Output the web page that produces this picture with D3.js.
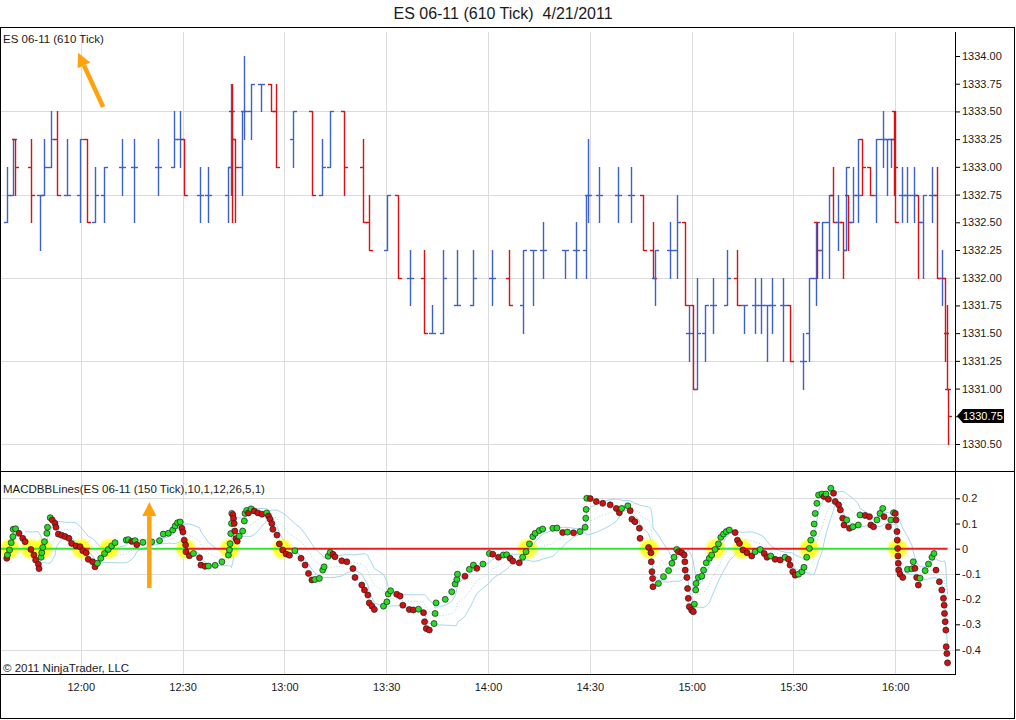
<!DOCTYPE html>
<meta charset="utf-8">
<script src="https://d3js.org/d3.v7.min.js"></script>
<style>
  body { margin: 0; background: #fff; }
  text { font-family: "Liberation Sans", Arial, sans-serif; fill: #1a1a1a; }
</style>
<div id="chart"></div>
<script>

// ES 06-11, 610 tick bars. time = minutes after midnight
const barMinute = [698.4,700.0,700.7,705.3,708.0,709.3,711.2,712.9,715.9,719.8,
  721.9,724.2,726.7,732.1,735.8,742.9,747.5,749.3,750.5,755.0,
  757.6,763.5,764.2,764.5,765.5,767.6,768.2,770.1,773.0,776.0,
  777.6,782.6,788.1,791.0,793.5,797.5,803.1,804.8,810.2,813.6,
  817.1,821.0,823.6,826.7,830.8,835.7,841.1,846.2,850.2,853.2,
  856.1,862.7,865.9,868.8,869.6,872.8,878.4,882.1,885.6,888.6,
  889.3,893.5,895.6,897.9,899.3,900.5,901.5,903.8,906.4,910.5,
  913.3,915.3,918.8,920.5,922.2,923.6,926.9,929.0,932.9,934.7,
  936.6,936.9,938.5,940.6,941.6,943.0,944.7,945.4,946.2,947.4,
  949.1,950.1,952.6,954.4,956.3,957.5,958.7,959.5,960.0,962.0,
  963.6,965.4,966.7,968.1,970.8,972.3,973.7,974.7,975.2,975.4];
const barOpen = [1332.50,1332.75,1333.25,1333.00,1332.75,1332.75,1333.00,1333.25,1332.75,1332.75,
  1333.25,1332.50,1332.75,1333.00,1333.00,1333.00,1333.00,1333.25,1333.25,1332.75,
  1332.75,1332.75,1333.00,1333.50,1333.25,1333.00,1333.50,1333.50,1333.75,1333.75,
  1333.50,1333.25,1333.50,1332.75,1333.00,1333.50,1333.00,1332.50,1332.25,1332.75,
  1332.00,1332.00,1331.50,1331.50,1331.75,1331.75,1332.00,1332.00,1331.75,1332.25,
  1332.25,1332.25,1332.25,1332.25,1332.75,1332.75,1332.75,1332.75,1332.75,1332.25,
  1332.00,1332.25,1332.25,1332.50,1331.50,1331.75,1331.00,1331.50,1331.75,1331.75,
  1332.00,1331.75,1331.75,1331.75,1331.75,1331.75,1331.75,1331.75,1331.25,1331.50,
  1332.00,1332.50,1332.25,1332.50,1332.75,1332.50,1332.50,1332.25,1332.75,1332.50,
  1332.75,1333.25,1333.00,1332.75,1333.25,1333.25,1333.25,1333.25,1333.50,1332.75,
  1332.75,1332.75,1332.75,1332.50,1332.75,1332.75,1332.00,1332.00,1331.50,1331.00];
const barHigh = [1333.00,1333.25,1333.25,1333.25,1332.75,1333.25,1333.50,1333.50,1333.25,1333.25,
  1333.25,1333.00,1333.00,1333.25,1333.25,1333.25,1333.50,1333.50,1333.25,1333.00,
  1333.00,1333.00,1333.75,1333.75,1333.25,1333.50,1334.00,1333.75,1333.75,1333.75,
  1333.75,1333.50,1333.50,1333.25,1333.50,1333.50,1333.25,1332.75,1332.75,1332.75,
  1332.25,1332.25,1331.75,1332.25,1332.25,1332.25,1332.25,1332.25,1332.25,1332.25,
  1332.50,1332.25,1332.50,1332.75,1333.25,1333.00,1333.00,1333.00,1332.75,1332.50,
  1332.25,1332.50,1332.75,1332.50,1331.75,1331.75,1332.00,1331.75,1332.00,1332.25,
  1332.25,1331.75,1332.00,1332.00,1331.75,1332.00,1332.00,1331.75,1331.50,1332.00,
  1332.50,1332.50,1332.50,1332.75,1333.00,1332.75,1332.50,1333.00,1332.75,1333.00,
  1333.25,1333.25,1333.00,1333.25,1333.50,1333.25,1333.25,1333.50,1333.50,1333.00,
  1333.00,1333.00,1332.75,1332.75,1333.00,1333.00,1332.25,1332.00,1331.75,1331.00];
const barLow = [1332.50,1332.75,1332.75,1332.50,1332.25,1332.75,1333.00,1332.75,1332.75,1332.50,
  1332.50,1332.50,1332.50,1332.75,1332.50,1332.75,1333.00,1333.00,1332.75,1332.50,
  1332.50,1332.50,1332.75,1332.50,1332.50,1332.75,1333.25,1333.25,1333.50,1333.50,
  1333.00,1333.00,1332.75,1332.75,1333.00,1332.75,1332.50,1332.25,1332.25,1332.00,
  1331.75,1331.50,1331.50,1331.50,1331.75,1331.75,1331.75,1331.75,1331.50,1331.75,
  1332.00,1332.00,1332.00,1332.00,1332.50,1332.50,1332.50,1332.50,1332.25,1332.00,
  1331.75,1332.00,1332.00,1331.75,1331.25,1331.00,1331.00,1331.25,1331.50,1331.75,
  1331.75,1331.50,1331.50,1331.50,1331.25,1331.50,1331.25,1331.25,1331.00,1331.25,
  1331.75,1332.00,1332.00,1332.00,1332.50,1332.25,1332.00,1332.25,1332.25,1332.50,
  1332.50,1332.75,1332.75,1332.50,1333.00,1332.75,1333.00,1332.75,1332.50,1332.50,
  1332.50,1332.50,1332.00,1332.00,1332.50,1332.00,1331.75,1331.25,1331.00,1330.50];
const barClose = [1332.75,1333.25,1333.00,1332.75,1332.75,1333.00,1333.25,1332.75,1332.75,1333.25,
  1332.50,1332.75,1333.00,1333.00,1333.00,1333.00,1333.25,1333.25,1332.75,1332.75,
  1332.75,1333.00,1333.50,1333.25,1333.00,1333.50,1333.50,1333.75,1333.75,1333.50,
  1333.00,1333.50,1332.75,1333.00,1333.50,1333.00,1332.50,1332.25,1332.75,1332.00,
  1332.00,1331.50,1331.50,1332.00,1331.75,1332.00,1332.00,1331.75,1332.25,1332.25,
  1332.25,1332.25,1332.25,1332.75,1332.75,1332.75,1332.75,1332.75,1332.25,1332.00,
  1332.25,1332.25,1332.50,1331.75,1331.50,1331.00,1331.50,1331.75,1331.75,1332.00,
  1331.75,1331.75,1331.75,1331.75,1331.75,1331.75,1331.75,1331.25,1331.25,1332.00,
  1332.50,1332.25,1332.50,1332.75,1332.50,1332.50,1332.25,1333.00,1332.50,1332.75,
  1332.75,1333.00,1332.75,1333.25,1333.25,1333.25,1333.25,1333.00,1332.50,1332.75,
  1332.75,1332.75,1332.50,1332.75,1332.75,1332.00,1332.00,1331.50,1331.00,1330.75];

// MACD of the 150 tick series
const macdMinute = [698.2,698.4,699.0,699.5,700.0,700.1,700.8,701.8,702.9,703.6,
  705.3,706.2,706.7,707.5,707.7,708.3,708.5,708.8,709.3,710.0,
  710.2,711.0,711.6,712.4,712.7,713.4,714.4,715.4,716.5,717.3,
  718.6,719.8,720.6,721.6,722.2,723.5,724.2,724.9,725.9,727.0,
  728.1,729.1,730.1,733.4,734.0,735.0,736.0,736.5,738.3,740.9,
  743.2,744.3,745.8,747.1,747.8,748.5,749.3,749.8,750.1,750.5,
  750.9,751.0,752.0,753.2,755.0,755.4,756.6,757.6,759.6,761.6,
  763.5,763.8,764.0,764.2,764.4,764.5,764.8,765.0,765.2,765.4,
  765.7,766.1,766.7,767.7,768.2,768.4,768.9,769.4,770.2,771.1,
  772.2,773.4,774.8,775.3,775.8,776.3,776.6,777.8,778.5,779.5,
  780.5,781.5,783.1,784.9,786.1,787.1,788.1,789.0,790.3,791.3,
  791.7,792.9,793.5,794.3,794.9,796.9,798.4,800.2,800.8,802.8,
  803.6,804.6,805.0,805.8,806.5,809.2,810.2,810.6,811.3,813.1,
  814.1,814.9,816.8,818.0,819.5,821.0,821.3,821.8,822.7,824.1,
  824.4,824.7,827.4,829.3,830.3,830.8,831.0,833.2,834.5,835.7,
  836.7,838.5,840.4,841.4,843.1,844.5,845.5,846.5,847.3,849.2,
  850.2,851.2,852.2,853.2,853.9,855.1,856.1,859.1,860.3,862.0,
  863.4,865.2,867.1,868.6,868.8,868.9,869.1,870.1,871.9,873.8,
  876.0,877.8,878.7,879.4,881.2,881.9,882.4,883.3,884.6,884.8,
  887.3,888.0,888.1,888.3,888.5,888.6,890.2,891.7,893.2,894.2,
  894.8,895.6,896.1,897.1,897.8,898.0,898.1,898.6,898.8,899.0,
  899.3,900.0,900.5,900.8,901.2,901.3,902.0,903.0,903.5,904.3,
  905.2,905.9,906.9,907.9,908.6,909.4,910.2,911.1,912.8,913.5,
  914.1,915.1,916.3,917.7,918.7,920.2,921.4,922.2,923.3,924.6,
  926.1,927.5,928.5,929.0,929.8,930.5,931.5,932.5,933.1,933.9,
  934.7,935.1,935.9,936.1,936.4,936.9,937.4,938.4,939.0,939.6,
  940.3,941.0,941.8,942.3,943.3,943.8,944.5,944.9,945.7,946.5,
  947.5,949.1,949.6,951.1,952.4,952.8,953.6,954.6,955.5,956.3,
  956.7,958.0,958.7,959.5,960.0,960.2,960.5,960.6,960.7,960.8,
  960.9,961.0,961.4,962.2,963.6,964.9,965.3,965.8,966.3,966.8,
  967.3,968.8,969.8,970.8,971.4,972.0,973.0,973.7,974.2,974.4,
  974.5,974.7,974.9,975.0,975.2,975.4];
const macdValue = [-0.038,-0.025,-0.005,0.024,0.048,0.077,0.079,0.061,0.041,0.028,
  -0.003,-0.025,-0.045,-0.062,-0.079,-0.034,-0.016,0.005,0.028,0.061,
  0.085,0.123,0.114,0.101,0.085,0.058,0.053,0.048,0.041,0.021,
  0.011,0.008,-0.008,-0.016,-0.042,-0.052,-0.072,-0.058,-0.038,-0.019,
  -0.003,0.011,0.024,0.034,0.036,0.029,0.032,0.016,0.025,0.027,
  0.032,0.058,0.061,0.074,0.090,0.103,0.106,0.081,0.066,0.034,
  0.015,-0.012,-0.028,-0.019,-0.036,-0.065,-0.070,-0.069,-0.066,-0.052,
  -0.025,-0.005,0.020,0.060,0.100,0.140,0.135,0.120,0.100,0.070,
  0.040,0.030,0.050,0.070,0.110,0.140,0.152,0.142,0.158,0.150,
  0.142,0.137,0.142,0.130,0.117,0.100,0.077,0.054,0.019,-0.005,
  -0.021,-0.026,-0.008,-0.038,-0.065,-0.098,-0.124,-0.122,-0.118,-0.085,
  -0.072,-0.030,-0.015,-0.022,-0.032,-0.048,-0.052,-0.079,-0.114,-0.144,
  -0.164,-0.184,-0.215,-0.228,-0.241,-0.228,-0.211,-0.180,-0.167,-0.181,
  -0.188,-0.224,-0.241,-0.243,-0.240,-0.254,-0.290,-0.317,-0.323,-0.297,
  -0.257,-0.215,-0.201,-0.171,-0.140,-0.122,-0.101,-0.109,-0.082,-0.065,
  -0.078,-0.061,-0.019,-0.022,-0.034,-0.025,-0.024,-0.038,-0.049,-0.056,
  -0.034,-0.012,0.019,0.048,0.061,0.072,0.078,0.081,0.082,0.064,
  0.066,0.063,0.068,0.085,0.121,0.156,0.200,0.199,0.187,0.180,
  0.174,0.160,0.143,0.160,0.170,0.151,0.117,0.107,0.081,0.041,
  0.005,-0.016,-0.052,-0.091,-0.118,-0.151,-0.138,-0.111,-0.087,-0.058,
  -0.034,-0.003,-0.012,-0.016,-0.025,-0.052,-0.085,-0.114,-0.158,-0.197,
  -0.230,-0.244,-0.250,-0.220,-0.164,-0.138,-0.114,-0.109,-0.085,-0.056,
  -0.038,-0.025,-0.003,0.019,0.045,0.058,0.068,0.074,0.064,0.034,
  0.021,-0.005,-0.016,-0.029,-0.012,-0.003,-0.019,-0.034,-0.029,-0.042,
  -0.045,-0.034,-0.042,-0.065,-0.091,-0.105,-0.101,-0.091,-0.074,-0.034,
  0.001,0.034,0.061,0.098,0.140,0.180,0.213,0.217,0.207,0.217,
  0.196,0.240,0.220,0.187,0.174,0.154,0.121,0.094,0.114,0.081,
  0.087,0.094,0.134,0.132,0.127,0.094,0.087,0.114,0.140,0.160,
  0.127,0.087,0.114,0.143,0.140,0.114,0.068,0.034,0.001,-0.029,
  -0.058,-0.085,-0.101,-0.114,-0.082,-0.080,-0.052,-0.078,-0.114,-0.144,
  -0.117,-0.087,-0.061,-0.034,-0.019,-0.085,-0.131,-0.164,-0.197,-0.224,
  -0.257,-0.290,-0.323,-0.389,-0.416,-0.453];

// colour state of the zero line, from each start minute until the next
const signalStart = [696.2,719.8,722.7,750.7,764.0,779.3,852.1,887.5,908.4,915.2,934.9,960.5];
const signalUp = [true,false,true,false,true,false,true,false,true,false,true,false];

const priceTicks = [1330.50,1330.75,1331.00,1331.25,1331.50,1331.75,1332.00,1332.25,
  1332.50,1332.75,1333.00,1333.25,1333.50,1333.75,1334.00];
const priceGrid = [1330.50,1331.25,1332.00,1332.75,1333.50];
const macdTicks = [0.2,0.1,0,-0.1,-0.2,-0.3,-0.4];
const macdGrid = [0.2,-0.1,-0.4];
const timeTicks = [720,750,780,810,840,870,900,930,960];

// hand drawn arrows: [minute, value] from -> to
const priceArrow = {from: [726.6, 1333.54], to: [719.2, 1334.03]};
const macdArrow = {from: [740.2, -0.156], to: [740.2, 0.185]};

const W = 1016, H = 720,
  axisX = 955,
  topY = 27, splitY = 471, bottomY = 674;

const blue = "#3c60cc", red = "#dc1010", green = "#22dd22", orange = "#ffa20f";

var x = d3.scaleLinear().domain([696.2, 977.6]).range([0, axisX]);
var yP = d3.scaleLinear().domain([1330.5, 1334]).range([444, 56]);
var yM = d3.scaleLinear().domain([-0.4, 0.2]).range([649.5, 498.3]);

var svg = d3.select("#chart").append("svg")
  .attr("width", W).attr("height", H);

var defs = svg.append("defs");
defs.append("filter").attr("id", "soft")
  .append("feGaussianBlur").attr("stdDeviation", 1.2);
defs.append("clipPath").attr("id", "clipTop").append("rect")
  .attr("x", 0).attr("y", 32).attr("width", axisX).attr("height", splitY - 32);
defs.append("clipPath").attr("id", "clipBot").append("rect")
  .attr("x", 0).attr("y", splitY).attr("width", axisX).attr("height", bottomY - splitY);

// grid
var grid = svg.append("g").attr("stroke", "#dcdcdc").attr("stroke-width", 1);
grid.selectAll("vtop").data(timeTicks).enter().append("line")
  .attr("x1", d => Math.round(x(d)) + 0.5).attr("x2", d => Math.round(x(d)) + 0.5)
  .attr("y1", 32).attr("y2", splitY);
grid.selectAll("vbot").data(timeTicks).enter().append("line")
  .attr("x1", d => Math.round(x(d)) + 0.5).attr("x2", d => Math.round(x(d)) + 0.5)
  .attr("y1", splitY).attr("y2", bottomY);
grid.selectAll("hp").data(priceGrid).enter().append("line")
  .attr("x1", 0).attr("x2", axisX)
  .attr("y1", d => Math.round(yP(d)) + 0.5).attr("y2", d => Math.round(yP(d)) + 0.5);
grid.selectAll("hm").data(macdGrid).enter().append("line")
  .attr("x1", 0).attr("x2", axisX)
  .attr("y1", d => Math.round(yM(d)) + 0.5).attr("y2", d => Math.round(yM(d)) + 0.5);

// price bars
var bars = barMinute.map((m, i) => ({m: m, o: barOpen[i], h: barHigh[i], l: barLow[i], c: barClose[i]}));
var barG = svg.append("g").attr("clip-path", "url(#clipTop)");
const bx = d => Math.round(x(d.m)) + 0.5;
const colour = d => d.c >= d.o ? blue : red;
bars.forEach(d => {
  var g = barG.append("g").datum(d);
  g.append("line").attr("stroke", colour(d)).attr("stroke-width", 1.4)
    .attr("x1", bx(d)).attr("x2", bx(d))
    .attr("y1", Math.round(yP(d.h))).attr("y2", Math.round(yP(d.l)) + 1);
  g.append("line").attr("stroke", colour(d)).attr("stroke-width", 1.4)
    .attr("x1", bx(d) - 3.5).attr("x2", bx(d))
    .attr("y1", Math.round(yP(d.o)) + 0.5).attr("y2", Math.round(yP(d.o)) + 0.5);
  g.append("line").attr("stroke", colour(d)).attr("stroke-width", 1.4)
    .attr("x1", bx(d)).attr("x2", bx(d) + 3.5)
    .attr("y1", Math.round(yP(d.c)) + 0.5).attr("y2", Math.round(yP(d.c)) + 0.5);
});

// MACD
var macd = macdMinute.map((m, i) => ({m: m, v: macdValue[i],
  up: i == 0 ? macdValue[i] > 0 : macdValue[i] > macdValue[i - 1]}));

// bollinger lines on the MACD (10 period, 1 deviation)
var bb = [];
for (var i = 9; i < macd.length; i++) {
  var win = macdValue.slice(i - 9, i + 1);
  var mean = d3.mean(win), sd = Math.sqrt(d3.mean(win, v => (v - mean) * (v - mean)));
  bb.push({m: macd[i].m, mid: mean, hi: mean + sd, lo: mean - sd});
}
var botG = svg.append("g").attr("clip-path", "url(#clipBot)");
["hi", "lo"].forEach(k => {
  botG.append("path").datum(bb)
    .attr("fill", "none").attr("stroke", "#a6d6f0").attr("stroke-width", 1)
    .attr("d", d3.line().x(d => x(d.m)).y(d => yM(d[k])));
});
botG.append("path").datum(bb)
  .attr("fill", "none").attr("stroke", "#a6d6f0").attr("stroke-width", 1)
  .attr("stroke-dasharray", "1,2")
  .attr("d", d3.line().x(d => x(d.m)).y(d => yM(d.mid)));

// zero crossings
var crossings = [];
for (var i = 1; i < macd.length; i++) {
  var a = macd[i - 1], b = macd[i];
  if ((a.v < 0) != (b.v < 0)) {
    crossings.push(a.m + (b.m - a.m) * (-a.v) / (b.v - a.v));
  }
}
botG.append("g").attr("filter", "url(#soft)")
  .selectAll("circle").data(crossings).enter().append("circle")
  .attr("cx", d => x(d)).attr("cy", yM(0)).attr("r", 9.5)
  .attr("fill", "#ffff1a").attr("opacity", 0.92);

// zero line, coloured by signal state
var lastMinute = macdMinute[macdMinute.length - 1];
var segs = signalStart.map((s, i) => ({s: s, e: i < signalStart.length - 1 ? signalStart[i + 1] : lastMinute, up: signalUp[i]}));
botG.selectAll("line.zero").data(segs).enter().append("line")
  .attr("x1", d => x(d.s)).attr("x2", d => x(d.e))
  .attr("y1", yM(0)).attr("y2", yM(0))
  .attr("stroke", d => d.up ? "#2ee82e" : "#ee1c1c").attr("stroke-width", 2);

botG.selectAll("circle.dot").data(macd).enter().append("circle")
  .attr("cx", d => x(d.m)).attr("cy", d => yM(d.v)).attr("r", 3)
  .attr("fill", d => d.up ? green : "#d40f0f")
  .attr("stroke", "#1e1e1e").attr("stroke-width", 0.7);

// axes
var axP = svg.append("g").attr("transform", "translate(" + axisX + ",0)")
  .call(d3.axisRight(yP).tickValues(priceTicks).tickSize(5).tickPadding(2)
    .tickFormat(d3.format(".2f")));
var axM = svg.append("g").attr("transform", "translate(" + axisX + ",0)")
  .call(d3.axisRight(yM).tickValues(macdTicks).tickSize(5).tickPadding(2)
    .tickFormat(d => d == 0 ? "0" : d3.format(".1f")(d).replace("\u2212", "-")));
var axT = svg.append("g").attr("transform", "translate(0," + bottomY + ")")
  .call(d3.axisBottom(x).tickValues(timeTicks).tickSize(0).tickPadding(9)
    .tickFormat(m => Math.floor(m / 60) + ":" + String(m % 60).padStart(2, "0")));
[axP, axM, axT].forEach(g => {
  g.select(".domain").remove();
  g.selectAll("text").attr("font-size", 11).attr("font-family", "Liberation Sans, Arial, sans-serif")
    .attr("fill", "#222");
  g.selectAll(".tick line").attr("stroke", "#000");
});

// frame and axis lines
var frame = svg.append("g").attr("stroke", "#000").attr("fill", "none")
  .attr("shape-rendering", "crispEdges");
frame.append("rect").attr("x", 0.5).attr("y", topY + 0.5).attr("width", 1013.5).attr("height", H - topY - 2);
frame.append("line").attr("x1", 0).attr("x2", 1014).attr("y1", splitY + 0.5).attr("y2", splitY + 0.5);
frame.append("line").attr("x1", axisX + 0.5).attr("x2", axisX + 0.5).attr("y1", 32).attr("y2", bottomY);
frame.append("line").attr("x1", 0).attr("x2", axisX + 1).attr("y1", bottomY + 0.5).attr("y2", bottomY + 0.5);

// last price marker
var last = barClose[barClose.length - 1], ly = Math.round(yP(last));
svg.append("path")
  .attr("d", "M" + (axisX + 2) + "," + ly + " L" + (axisX + 8) + "," + (ly - 7) +
    " L" + (axisX + 49) + "," + (ly - 7) + " L" + (axisX + 49) + "," + (ly + 7) +
    " L" + (axisX + 8) + "," + (ly + 7) + "Z")
  .attr("fill", "#000");
svg.append("text").attr("x", axisX + 8).attr("y", ly + 4)
  .attr("font-size", 11).style("fill", "#fff").text(d3.format(".2f")(last));

// titles
svg.append("text").attr("x", 503).attr("y", 19).attr("text-anchor", "middle")
  .attr("font-size", 16).style("white-space", "pre")
  .text("ES 06-11 (610 Tick)  4/21/2011");
svg.append("text").attr("x", 3).attr("y", 43).attr("font-size", 11.5)
  .text("ES 06-11 (610 Tick)");
svg.append("text").attr("x", 3).attr("y", 493).attr("font-size", 11.5)
  .text("MACDBBLines(ES 06-11 (150 Tick),10,1,12,26,5,1)");
svg.append("text").attr("x", 3).attr("y", 672).attr("font-size", 11.5)
  .text("\u00a9 2011 NinjaTrader, LLC");

// orange arrows
function arrow(p1, p2) {
  var dx = p2[0] - p1[0], dy = p2[1] - p1[1], len = Math.sqrt(dx * dx + dy * dy);
  var ux = dx / len, uy = dy / len, head = 14, half = 7;
  var bxp = p2[0] - ux * head, byp = p2[1] - uy * head;
  var g = svg.append("g");
  g.append("line").attr("x1", p1[0]).attr("y1", p1[1]).attr("x2", bxp).attr("y2", byp)
    .attr("stroke", orange).attr("stroke-width", 4.5);
  g.append("path").attr("fill", orange)
    .attr("d", "M" + p2[0] + "," + p2[1] + " L" + (bxp - uy * half) + "," + (byp + ux * half) +
      " L" + (bxp + uy * half) + "," + (byp - ux * half) + "Z");
}
arrow([x(priceArrow.from[0]), yP(priceArrow.from[1])], [x(priceArrow.to[0]), yP(priceArrow.to[1])]);
arrow([x(macdArrow.from[0]), yM(macdArrow.from[1])], [x(macdArrow.to[0]), yM(macdArrow.to[1])]);

</script>
